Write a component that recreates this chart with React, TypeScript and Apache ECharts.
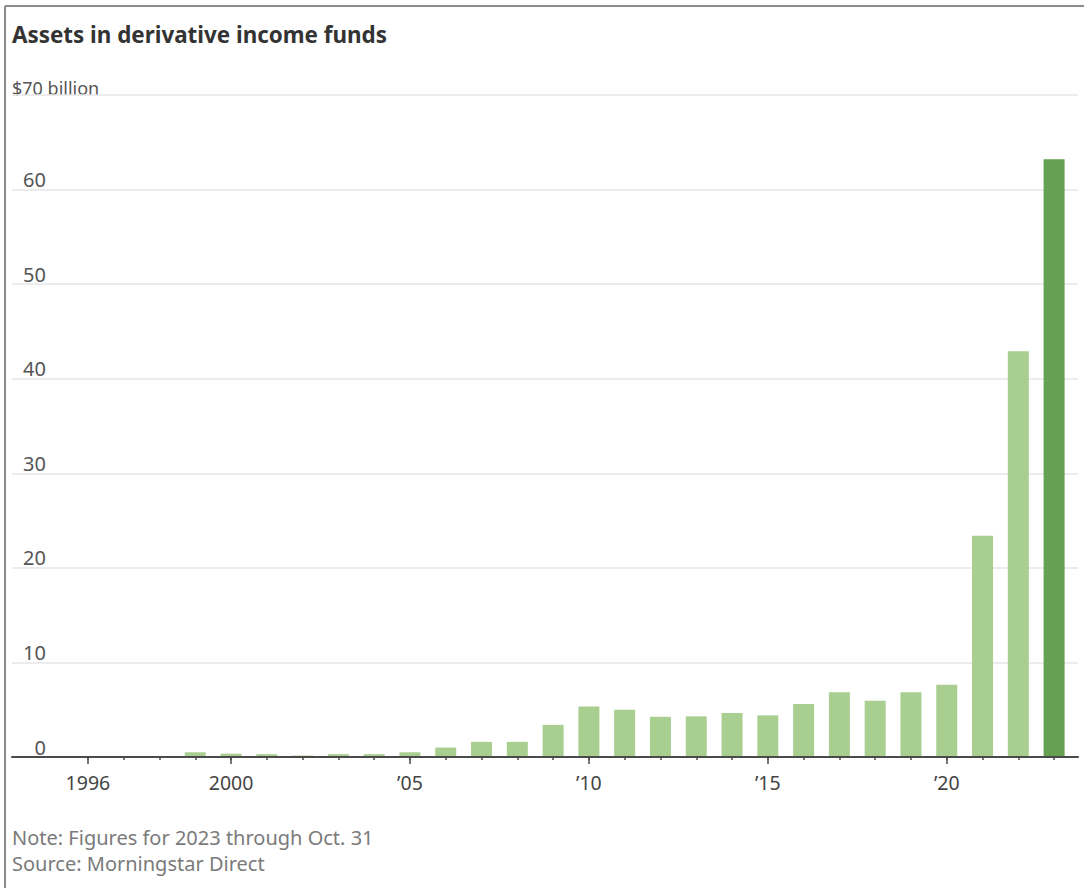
import React, { useEffect, useRef } from 'react';
import * as echarts from 'echarts';

const years = [
  '1996', '1997', '1998', '1999', '2000', '2001', '2002', '2003', '2004', '2005',
  '2006', '2007', '2008', '2009', '2010', '2011', '2012', '2013', '2014', '2015',
  '2016', '2017', '2018', '2019', '2020', '2021', '2022', '2023',
];
const assets = [
  0, 0, 0, 0.5, 0.35, 0.3, 0.15, 0.3, 0.3, 0.5,
  1.0, 1.6, 1.6, 3.4, 5.35, 5.0, 4.25, 4.3, 4.65, 4.4,
  5.6, 6.85, 5.95, 6.85, 7.65, 23.4, 42.9, 63.2,
];
const labeledYears = ['1996', '2000', '2005', '2010', '2015', '2020'];
const labeledText = ['1996', '2000', '\u201905', '\u201910', '\u201915', '\u201920'];
const yMin = 0;
const yMax = 70;
const yStep = 10;

const titleText = 'Assets in derivative income funds';
const unitText = '$70 billion';
const noteText = 'Note: Figures for 2023 through Oct. 31';
const sourceText = 'Source: Morningstar Direct';

const LIGHT = '#a8cf90';
const DARK = '#66a153';
const FONT = '"Noto Sans", sans-serif';

export default function App() {
  const ref = useRef<HTMLDivElement>(null);
  useEffect(() => {
    const chart = echarts.init(ref.current as HTMLDivElement, null, { renderer: 'svg' });
    const lastIdx = years.length - 1;
    const isLabeled = (_i: number, v: string) => labeledYears.includes(v);
    const option: any = {
      animation: false,
      backgroundColor: '#ffffff',
      textStyle: { fontFamily: FONT },
      grid: [
        { left: 12, right: 6, top: 95, height: 662 },
        { left: 70, right: 12, top: 95, height: 662 },
      ],
      xAxis: [
        {
          gridIndex: 0, type: 'value', min: 0, max: 1, z: 5,
          axisLine: { show: true, onZero: false, lineStyle: { color: '#4a4a4a', width: 2 } },
          axisTick: { show: false }, axisLabel: { show: false }, splitLine: { show: false },
        },
        {
          gridIndex: 1, type: 'category', data: years, position: 'bottom', z: 5,
          axisLine: { show: false },
          axisTick: { show: true, alignWithLabel: true, interval: 0, length: 3, lineStyle: { color: '#4a4a4a', width: 1.5 } },
          axisLabel: { show: false },
        },
        {
          gridIndex: 1, type: 'category', data: years, position: 'bottom', z: 5,
          axisLine: { show: false },
          axisTick: { show: true, alignWithLabel: true, interval: isLabeled, length: 7, lineStyle: { color: '#4a4a4a', width: 1.5 } },
          axisLabel: {
            interval: isLabeled,
            formatter: (v: string) => labeledText[labeledYears.indexOf(v)],
            margin: 15, fontSize: 19.5, color: '#444', fontFamily: FONT,
          },
        },
      ],
      yAxis: [
        {
          gridIndex: 0, type: 'value', min: yMin, max: yMax, interval: yStep,
          axisLine: { show: false }, axisTick: { show: false },
          splitLine: { lineStyle: { color: '#e6e6e6', width: 1.5 } },
          axisLabel: {
            inside: true, margin: 34, align: 'right', verticalAlign: 'bottom',
            formatter: (v: number) => (v === yMax ? '' : String(v)),
            fontSize: 20, color: '#555', fontFamily: FONT,
          },
        },
        { gridIndex: 1, type: 'value', min: yMin, max: yMax, interval: yStep, show: false },
      ],
      series: [
        {
          type: 'bar', xAxisIndex: 2, yAxisIndex: 1, data: assets, barWidth: 21,
          itemStyle: { color: (p: any) => (p.dataIndex === lastIdx ? DARK : LIGHT) },
        },
      ],
      graphic: [
        { type: 'line', shape: { x1: 5, y1: 6, x2: 1084, y2: 6 }, style: { stroke: '#8c8c8c', lineWidth: 2 } },
        { type: 'line', shape: { x1: 5, y1: 6, x2: 5, y2: 888 }, style: { stroke: '#8c8c8c', lineWidth: 2 } },
        {
          type: 'text', x: 12, y: 34,
          style: { text: titleText, fill: '#333', fontSize: 22.4, fontWeight: 'bold', fontFamily: FONT, verticalAlign: 'middle', textVerticalAlign: 'middle' },
        },
        {
          type: 'text', x: 12, y: 88,
          style: { text: unitText, fill: '#555', fontSize: 18, fontFamily: FONT, verticalAlign: 'middle', textVerticalAlign: 'middle' },
        },
        {
          type: 'text', x: 12, y: 837,
          style: { text: noteText, fill: '#7a7a7a', fontSize: 20, fontFamily: FONT, verticalAlign: 'middle', textVerticalAlign: 'middle' },
        },
        {
          type: 'text', x: 12, y: 863,
          style: { text: sourceText, fill: '#7a7a7a', fontSize: 20, fontFamily: FONT, verticalAlign: 'middle', textVerticalAlign: 'middle' },
        },
      ],
    };
    chart.setOption(option);
    return () => chart.dispose();
  }, []);
  return <div ref={ref} style={{ position: 'absolute', left: 0, top: 0, width: 1084, height: 888 }} />;
}
